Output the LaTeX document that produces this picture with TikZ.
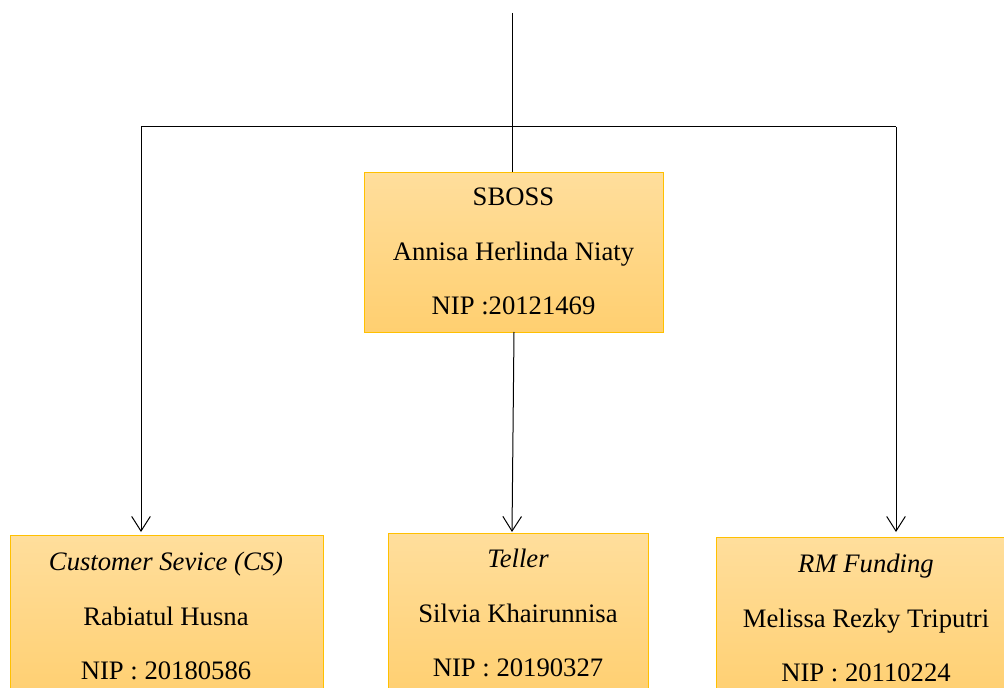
\documentclass[tikz,border=0pt]{standalone}
\usepackage{fontspec}
\setmainfont{Liberation Serif}
\usetikzlibrary{arrows.meta}
\definecolor{boxtop}{RGB}{255,222,156}
\definecolor{boxbot}{RGB}{255,207,112}
\definecolor{boxline}{RGB}{255,192,0}
\tikzset{
  orgbox/.style={draw=boxline, line width=0.8pt, top color=boxtop, bottom color=boxbot, inner sep=0pt, anchor=north west},
  txt/.style={anchor=base, inner sep=0pt, font=\fontsize{20}{24}\selectfont},
  link/.style={line width=0.75pt, black},
  arr/.style={link, -{Straight Barb[length=11pt,width=14pt,line width=0.75pt]}}
}
\begin{document}
\begin{tikzpicture}[x=0.75pt,y=-0.75pt]
\useasboundingbox (0,0) rectangle (1004,688);
\clip (0,0) rectangle (1004,688);
% boxes
\node[orgbox, minimum width=299*0.75pt, minimum height=160*0.75pt] (sboss) at (364,172) {};
\node[orgbox, minimum width=313*0.75pt, minimum height=165*0.75pt] (cs) at (10,535) {};
\node[orgbox, minimum width=260*0.75pt, minimum height=165*0.75pt] (teller) at (388,533) {};
\node[orgbox, minimum width=300*0.75pt, minimum height=165*0.75pt] (rm) at (716,537) {};
% texts
\node[txt] (t1) at (513.5,206) {SBOSS};
\node[txt] (t2) at (513.5,261) {Annisa Herlinda Niaty};
\node[txt] (t3) at (513.5,315) {NIP :20121469};
\node[txt] (c1) at (166,570) {\itshape Customer Sevice (CS)};
\node[txt] (c2) at (166,625) {Rabiatul Husna};
\node[txt] (c3) at (166,679) {NIP : 20180586};
\node[txt] (e1) at (518,567) {\itshape Teller};
\node[txt] (e2) at (518,622) {Silvia Khairunnisa};
\node[txt] (e3) at (518,676) {NIP : 20190327};
\node[txt] (r1) at (866,572) {\itshape RM Funding};
\node[txt] (r2) at (866,627) {Melissa Rezky Triputri};
\node[txt] (r3) at (866,681) {NIP : 20110224};
% connectors
\coordinate (top) at (512,13);
\coordinate (sin) at (512,172);
\coordinate (jl) at (141,127);
\coordinate (jr) at (896,127);
\coordinate (csin) at (141,532);
\coordinate (rmin) at (896,532);
\coordinate (sout) at (514,332);
\coordinate (tin) at (512,532);
\draw[link] (top) -- (sin);
\draw[link] (jl) -- (jr);
\draw[arr] (jl) -- (csin);
\draw[arr] (jr) -- (rmin);
\draw[arr] (sout) -- (tin);
\end{tikzpicture}
\end{document}
